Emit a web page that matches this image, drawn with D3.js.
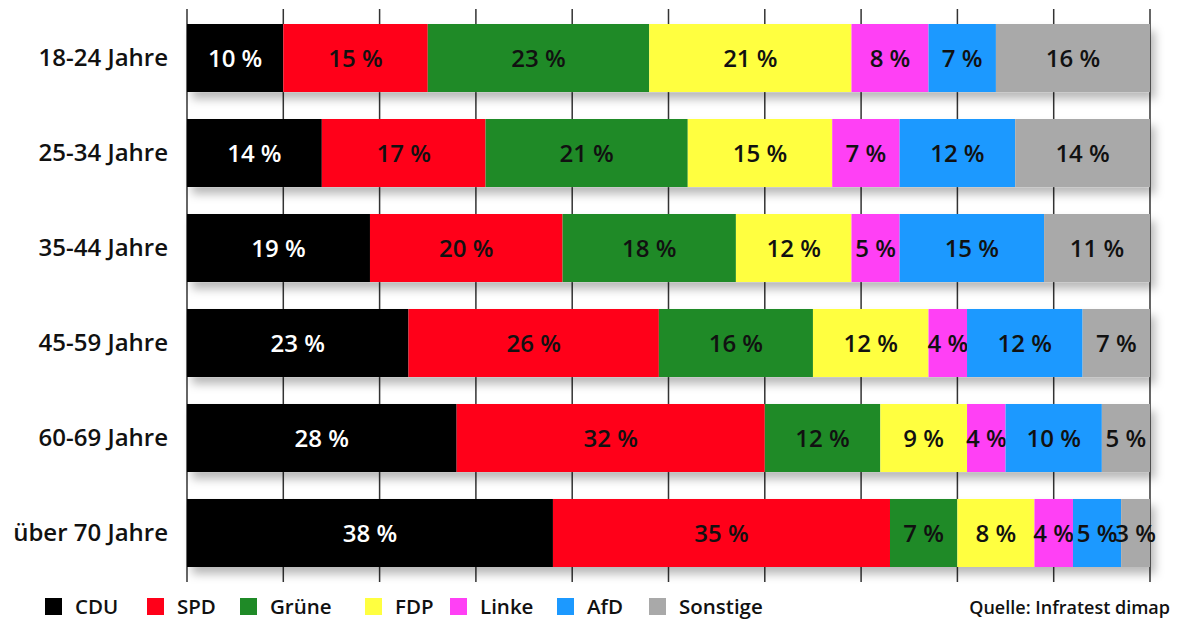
<!DOCTYPE html>
<html>
<head>
<meta charset="utf-8">
<script src="https://cdn.jsdelivr.net/npm/d3@7"></script>
<style>
  body { margin: 0; background: #fff; }
  svg text { font-family: "Open Sans", sans-serif; font-weight: 600; }
</style>
</head>
<body>
<div id="wrapper"></div>
<script>
// Daten
const ageGroups = ["18-24 Jahre", "25-34 Jahre", "35-44 Jahre", "45-59 Jahre", "60-69 Jahre", "über 70 Jahre"]
const parties = ["CDU", "SPD", "Grüne", "FDP", "Linke", "AfD", "Sonstige"]
const partyColors = ["#000000", "#ff0019", "#1f8a27", "#ffff40", "#ff40f5", "#1c99ff", "#a9a9a9"]
const cdu      = [10, 14, 19, 23, 28, 38]
const spd      = [15, 17, 20, 26, 32, 35]
const gruene   = [23, 21, 18, 16, 12, 7]
const fdp      = [21, 15, 12, 12, 9, 8]
const linke    = [8, 7, 5, 4, 4, 4]
const afd      = [7, 12, 15, 12, 10, 5]
const sonstige = [16, 14, 11, 7, 5, 3]
const xTicks = [0, 10, 20, 30, 40, 50, 60, 70, 80, 90, 100]
const source = "Quelle: Infratest dimap"

const seriesValues = [cdu, spd, gruene, fdp, linke, afd, sonstige]
const dataset = ageGroups.map((g, i) => {
  const row = { group: g }
  parties.forEach((p, j) => row[p] = seriesValues[j][i])
  return row
})

const dimensions = { width: 1177, height: 623 }

const wrapper = d3.select("#wrapper")
  .append("svg")
  .attr("width", dimensions.width)
  .attr("height", dimensions.height)

// Schatten
const defs = wrapper.append("defs")
const filter = defs.append("filter")
  .attr("id", "shadow")
  .attr("x", "-5%").attr("y", "-30%")
  .attr("width", "115%").attr("height", "180%")
filter.append("feDropShadow")
  .attr("dx", 5).attr("dy", 7)
  .attr("stdDeviation", 5)
  .attr("flood-color", "#000")
  .attr("flood-opacity", 0.28)

// Skalen
const xScale = d3.scaleLinear()
  .domain([0, 100])
  .range([187, 1150])

const yScale = d3.scaleBand()
  .domain(ageGroups)
  .range([24, 567])
  .paddingInner(0.284)
  .paddingOuter(0)

const colorScale = d3.scaleOrdinal()
  .domain(parties)
  .range(partyColors)

const stacked = d3.stack().keys(parties)(dataset)

// Gitterlinien
wrapper.append("g")
  .selectAll("line")
  .data(xTicks)
  .join("line")
  .attr("x1", d => xScale(d))
  .attr("x2", d => xScale(d))
  .attr("y1", 9)
  .attr("y2", 582)
  .attr("stroke", "#333")
  .attr("stroke-width", 1.5)

// Schatten-Balken
wrapper.append("g")
  .attr("filter", "url(#shadow)")
  .selectAll("rect")
  .data(dataset)
  .join("rect")
  .attr("x", xScale(0))
  .attr("y", d => yScale(d.group))
  .attr("width", xScale(100) - xScale(0))
  .attr("height", yScale.bandwidth())
  .attr("fill", "#fff")

// Balken
const layers = wrapper.append("g")
  .selectAll("g")
  .data(stacked)
  .join("g")
  .attr("fill", d => colorScale(d.key))

layers.selectAll("rect")
  .data(d => d)
  .join("rect")
  .attr("x", d => xScale(d[0]))
  .attr("y", d => yScale(d.data.group))
  .attr("width", d => xScale(d[1]) - xScale(d[0]))
  .attr("height", yScale.bandwidth())

// Wertbeschriftungen
layers.each(function(layer) {
  d3.select(this).selectAll("text")
    .data(layer)
    .join("text")
    .attr("x", d => (xScale(d[0]) + xScale(d[1])) / 2)
    .attr("y", d => yScale(d.data.group) + yScale.bandwidth() / 2)
    .attr("dy", "0.36em")
    .attr("text-anchor", "middle")
    .attr("font-size", "24px")
    .attr("fill", layer.key === "CDU" ? "#fff" : "#111")
    .text(d => (d[1] - d[0]) + " %")
})

// Kategorien
const yAxis = wrapper.append("g")
  .attr("transform", "translate(168,0)")
  .call(d3.axisLeft(yScale).tickSize(0).tickPadding(0))
yAxis.select(".domain").remove()
yAxis.selectAll("text")
  .attr("font-size", "24px")
  .attr("fill", "#111")
  .style("font-family", "'Open Sans', sans-serif")
  .style("font-weight", 600)

// Legende
const legendX = [45, 147, 240, 365, 450, 557, 649]
const legend = wrapper.append("g")
  .selectAll("g")
  .data(parties)
  .join("g")
  .attr("transform", (d, i) => `translate(${legendX[i]}, 598)`)

legend.append("rect")
  .attr("width", 17)
  .attr("height", 17)
  .attr("fill", d => colorScale(d))

legend.append("text")
  .attr("x", 30)
  .attr("y", 9)
  .attr("dy", "0.36em")
  .attr("font-size", "20.5px")
  .attr("fill", "#111")
  .text(d => d)

wrapper.append("text")
  .attr("x", 1170)
  .attr("y", 608)
  .attr("dy", "0.36em")
  .attr("text-anchor", "end")
  .attr("font-size", "18px")
  .attr("fill", "#111")
  .text(source)
</script>
</body>
</html>
